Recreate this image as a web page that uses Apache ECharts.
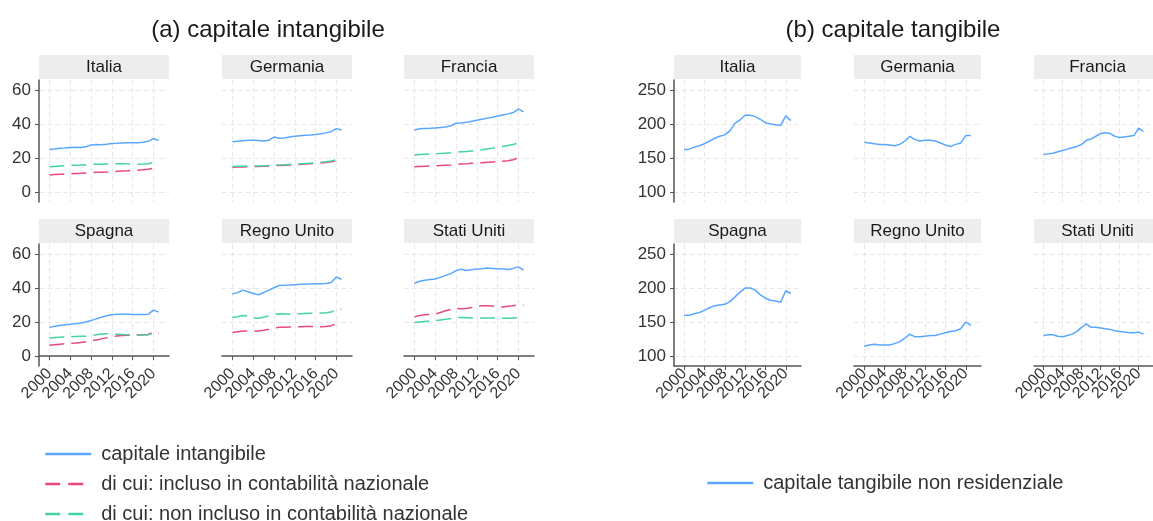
<!DOCTYPE html>
<html lang="it">
<head>
<meta charset="utf-8">
<script src="https://cdn.jsdelivr.net/npm/echarts@6/dist/echarts.min.js"></script>
</head>
<body style="margin:0;background:#fff">
<div id="container" style="width:1153px;height:521px"></div>
<script type="text/javascript">
    var years = [2000, 2001, 2002, 2003, 2004, 2005, 2006, 2007, 2008, 2009, 2010,
                 2011, 2012, 2013, 2014, 2015, 2016, 2017, 2018, 2019, 2020, 2021];
    var countries = ['Italia', 'Germania', 'Francia', 'Spagna', 'Regno Unito', 'Stati Uniti'];
    var yearTicks = [2000, 2004, 2008, 2012, 2016, 2020];
    var intTicks = [0, 20, 40, 60];
    var tanTicks = [100, 150, 200, 250];

    // (a) capitale intangibile
    var intangibile = {
        'Italia':      [25.0, 25.3, 25.7, 25.9, 26.2, 26.3, 26.2, 26.6, 27.6, 27.9, 27.8, 28.1, 28.5, 28.6, 28.8, 29.0, 28.9, 28.9, 29.3, 29.8, 31.5, 30.2],
        'Germania':    [29.5, 29.8, 30.1, 30.4, 30.4, 30.3, 30.0, 30.5, 32.3, 31.6, 31.8, 32.4, 32.8, 33.1, 33.4, 33.6, 33.9, 34.3, 34.8, 35.5, 37.3, 36.5],
        'Francia':     [36.5, 37.2, 37.4, 37.5, 37.7, 37.9, 38.3, 39.0, 40.5, 40.6, 41.0, 41.7, 42.3, 42.9, 43.5, 44.0, 44.7, 45.4, 46.0, 46.8, 48.8, 47.2],
        'Spagna':      [16.8, 17.4, 17.9, 18.3, 18.7, 19.0, 19.4, 20.0, 20.8, 21.8, 22.8, 23.6, 24.2, 24.5, 24.5, 24.5, 24.4, 24.4, 24.4, 24.5, 27.0, 25.8],
        'Regno Unito': [36.5, 37.3, 38.8, 37.8, 36.8, 36.0, 37.4, 38.8, 40.2, 41.5, 41.7, 41.8, 42.0, 42.2, 42.3, 42.4, 42.5, 42.6, 42.7, 43.3, 46.5, 45.2],
        'Stati Uniti': [42.8, 44.0, 44.6, 45.0, 45.4, 46.3, 47.5, 48.5, 50.3, 51.1, 50.4, 50.8, 51.2, 51.4, 51.8, 51.6, 51.4, 51.2, 51.0, 51.6, 52.5, 50.6]
    };
    var incluso = {
        'Italia':      [10.0, 10.2, 10.4, 10.5, 10.6, 10.8, 10.9, 11.1, 11.3, 11.5, 11.6, 11.7, 11.9, 12.1, 12.3, 12.4, 12.6, 12.8, 13.0, 13.3, 14.0, 13.6],
        'Germania':    [14.5, 14.6, 14.7, 14.8, 14.9, 15.0, 15.1, 15.3, 15.5, 15.6, 15.7, 15.9, 16.0, 16.2, 16.4, 16.6, 16.8, 17.0, 17.3, 17.7, 18.3, 18.5],
        'Francia':     [14.8, 15.0, 15.1, 15.2, 15.3, 15.5, 15.7, 15.9, 16.2, 16.4, 16.5, 16.8, 17.0, 17.2, 17.4, 17.6, 17.8, 18.1, 18.4, 18.9, 20.2, 19.7],
        'Spagna':      [6.2, 6.5, 6.8, 7.1, 7.4, 7.6, 7.9, 8.3, 8.8, 9.4, 10.0, 10.6, 11.2, 11.7, 12.0, 12.2, 12.3, 12.3, 12.4, 12.6, 14.0, 13.3],
        'Regno Unito': [13.8, 14.2, 14.6, 14.7, 14.6, 14.7, 15.1, 15.7, 16.4, 16.8, 16.9, 17.0, 17.1, 17.2, 17.3, 17.3, 17.2, 17.2, 17.3, 17.8, 19.0, 19.3],
        'Stati Uniti': [23.0, 23.8, 24.2, 24.4, 24.7, 25.6, 26.6, 27.4, 27.9, 27.8, 28.0, 28.5, 29.0, 29.5, 29.6, 29.4, 29.0, 28.8, 29.2, 29.6, 30.2, 29.9]
    };
    var nonIncluso = {
        'Italia':      [14.8, 15.0, 15.2, 15.4, 15.6, 15.7, 15.8, 16.0, 16.2, 16.3, 16.3, 16.4, 16.5, 16.6, 16.6, 16.5, 16.4, 16.3, 16.4, 16.6, 17.3, 17.1],
        'Germania':    [15.0, 15.1, 15.1, 15.2, 15.3, 15.3, 15.4, 15.6, 15.9, 15.9, 16.0, 16.2, 16.3, 16.5, 16.7, 16.9, 17.1, 17.4, 17.7, 18.2, 19.0, 19.5],
        'Francia':     [21.8, 22.0, 22.2, 22.3, 22.5, 22.6, 22.8, 23.0, 23.4, 23.6, 23.8, 24.1, 24.4, 24.8, 25.3, 25.8, 26.3, 26.8, 27.3, 27.9, 28.8, 28.9],
        'Spagna':      [10.5, 10.8, 11.0, 11.2, 11.3, 11.4, 11.5, 11.6, 11.9, 12.4, 12.9, 13.1, 13.0, 12.8, 12.6, 12.4, 12.2, 12.2, 12.3, 12.5, 13.4, 13.0],
        'Regno Unito': [22.6, 23.1, 23.8, 23.5, 22.6, 22.2, 22.8, 23.6, 24.4, 24.8, 24.7, 24.6, 24.7, 24.9, 25.0, 25.1, 25.2, 25.3, 25.4, 25.8, 27.6, 27.4],
        'Stati Uniti': [19.7, 20.0, 20.3, 20.6, 20.8, 21.2, 21.6, 22.1, 22.7, 22.6, 22.5, 22.4, 22.3, 22.3, 22.3, 22.4, 22.3, 22.2, 22.2, 22.4, 22.6, 22.1]
    };
    // (b) capitale tangibile non residenziale
    var tangibile = {
        'Italia':      [162, 163, 166, 168, 171, 175, 179, 182, 184, 190, 201, 206, 213, 213, 211, 207, 202, 200, 199, 198, 212, 205],
        'Germania':    [173, 172, 171, 170, 170, 169, 168, 170, 175, 182, 177, 175, 176, 176, 175, 172, 169, 167, 170, 172, 183, 183],
        'Francia':     [155, 156, 157, 159, 161, 163, 165, 167, 170, 176, 178, 182, 186, 187, 186, 182, 180, 181, 182, 183, 194, 189],
        'Spagna':      [160, 160, 162, 164, 167, 171, 174, 175, 176, 180, 187, 194, 200, 200, 197, 190, 185, 182, 181, 179, 196, 192],
        'Regno Unito': [114, 116, 117, 116, 116, 116, 118, 121, 126, 132, 128, 128, 129, 130, 130, 132, 134, 136, 137, 140, 150, 145],
        'Stati Uniti': [130, 131, 131, 129, 128, 130, 132, 136, 142, 147, 142, 142, 141, 140, 139, 137, 136, 135, 134, 134, 135, 132]
    };

    var nomeInt = 'capitale intangibile';
    var nomeInc = 'di cui: incluso in contabilità nazionale';
    var nomeNon = 'di cui: non incluso in contabilità nazionale';
    var nomeTan = 'capitale tangibile non residenziale';

    var blu = '#5aa7ff', rosa = '#e9487d', verde = '#45d39f';
    var font = 'Liberation Sans, Arial, sans-serif';

    function pairs(arr) {
        return years.map(function (y, k) { return [y, arr[k]]; });
    }

    // le etichette ruotate si sovrappongono: le divido su due assi sovrapposti
    var labelsA = yearTicks.filter(function (v, k) { return k % 2 === 0; });
    var labelsB = yearTicks.filter(function (v, k) { return k % 2 === 1; });

    var myChart = echarts.init(document.getElementById('container'));
    var grids = [], xAxes = [], yAxes = [], series = [], graphics = [];
    var colX = [[39, 222, 404], [674, 854, 1034]];
    var colW = [130, 127];
    var rowTop = [80, 244];
    var plotH = 122;

    function yearLabel(show, values) {
        return {
            show: show, customValues: values, rotate: 45, margin: 5,
            showMinLabel: true, showMaxLabel: true,
            fontSize: 16, color: '#333', fontFamily: font,
            formatter: function (v) { return String(v); }
        };
    }

    [0, 1].forEach(function (side) {
        countries.forEach(function (c, i) {
            var row = Math.floor(i / 3), col = i % 3;
            var left = colX[side][col], top = rowTop[row], w = colW[side];
            var g = grids.length;
            grids.push({left: left, top: top, width: w, height: plotH, containLabel: false});
            var grid = {color: '#e8e8e8', type: [5, 3], width: 1};
            var xi = xAxes.length;
            xAxes.push({
                type: 'value', gridIndex: g, position: 'bottom', min: 1998, max: 2023,
                axisLine: {show: row === 1, lineStyle: {color: '#555', width: 1.5}},
                axisTick: {show: row === 1, length: 4, customValues: yearTicks, lineStyle: {color: '#555'}},
                axisLabel: yearLabel(row === 1, labelsA),
                splitLine: {show: true, lineStyle: grid}
            });
            if (row === 1) {
                xAxes.push({
                    type: 'value', gridIndex: g, position: 'bottom', offset: 0, min: 1998, max: 2023,
                    axisLine: {show: false}, axisTick: {show: false},
                    axisLabel: yearLabel(true, labelsB),
                    splitLine: {show: false}
                });
            }
            yAxes.push({
                type: 'value', gridIndex: g,
                min: side === 0 ? -6 : 85, max: side === 0 ? 66 : 265,
                axisLine: {show: col === 0, lineStyle: {color: '#555', width: 1.5}},
                axisTick: {show: col === 0, length: 4, customValues: side === 0 ? intTicks : tanTicks, lineStyle: {color: '#555'}},
                axisLabel: {show: col === 0, customValues: side === 0 ? intTicks : tanTicks, margin: 8,
                    fontSize: 17, color: '#333', fontFamily: font},
                splitLine: {show: true, lineStyle: grid}
            });
            var lines = side === 0
                ? [[nomeInt, intangibile[c], blu, 'solid'],
                   [nomeInc, incluso[c], rosa, [15, 7]],
                   [nomeNon, nonIncluso[c], verde, [15, 7]]]
                : [[nomeTan, tangibile[c], blu, 'solid']];
            lines.forEach(function (s) {
                series.push({
                    name: s[0], type: 'line', xAxisIndex: xi, yAxisIndex: g,
                    data: pairs(s[1]), showSymbol: false, symbol: 'none',
                    lineStyle: {color: s[2], width: 1.5, type: s[3]},
                    itemStyle: {color: s[2]}
                });
            });
            // intestazione del pannello
            graphics.push({
                type: 'rect', left: left, top: top - 25,
                shape: {width: w, height: 24}, style: {fill: '#ededed'}
            });
            graphics.push({
                type: 'text', x: left + w / 2, y: top - 13,
                style: {text: c, fontSize: 17, fill: '#1a1a1a', fontFamily: font,
                    textAlign: 'center', textVerticalAlign: 'middle'}
            });
        });
    });

    graphics.push({
        type: 'text', x: 268, y: 30,
        style: {text: '(a) capitale intangibile', fontSize: 24, fill: '#1a1a1a', fontFamily: font,
            textAlign: 'center', textVerticalAlign: 'middle'}
    });
    graphics.push({
        type: 'text', x: 893, y: 30,
        style: {text: '(b) capitale tangibile', fontSize: 24, fill: '#1a1a1a', fontFamily: font,
            textAlign: 'center', textVerticalAlign: 'middle'}
    });

    function legendItem(name, left, top, dash) {
        return {
            data: [name], orient: 'vertical', left: left, top: top,
            itemWidth: 46, itemHeight: 14, selectedMode: false,
            itemStyle: {opacity: 0},
            lineStyle: {width: 2.5, type: dash || 'inherit'},
            textStyle: {fontSize: 20, color: '#333', fontFamily: font, padding: [0, 0, 0, 5]}
        };
    }

    var option = {
        animation: false,
        grid: grids,
        xAxis: xAxes,
        yAxis: yAxes,
        series: series,
        graphic: graphics,
        legend: [
            legendItem(nomeInt, 39, 439),
            legendItem(nomeInc, 39, 469, [15, 8]),
            legendItem(nomeNon, 39, 499, [15, 8]),
            legendItem(nomeTan, 701, 468)
        ]
    };
    myChart.setOption(option);
</script>
</body>
</html>
